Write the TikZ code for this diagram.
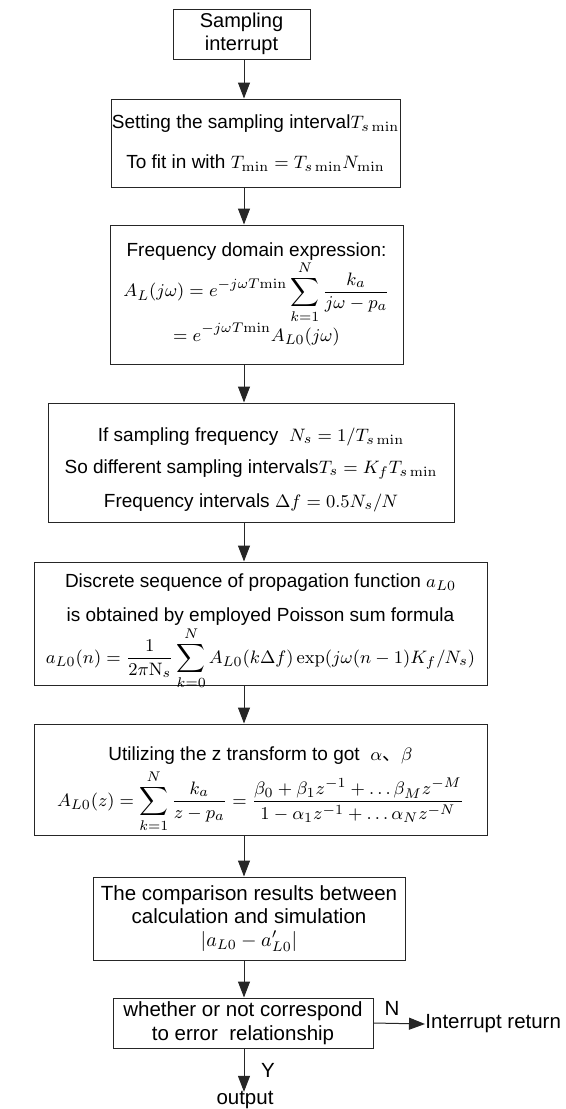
\documentclass[tikz,border=0pt]{standalone}
\usepackage[no-math]{fontspec}
\setmainfont{Liberation Sans}
\newfontfamily\cjk{Noto Sans CJK SC}
\usetikzlibrary{arrows.meta}
\begin{document}
\begin{tikzpicture}[x=0.5pt,y=-0.5pt,
  box/.style={draw=black!85,line width=0.5pt,align=center,inner sep=0pt,font=\fontsize{9.5}{12}\selectfont},
  arr/.style={draw=black!85,line width=0.5pt,-{Triangle[length=8pt,width=6pt]}},
  lbl/.style={inner sep=0pt,font=\fontsize{10.25}{12.5}\selectfont}]
\useasboundingbox (0,0) rectangle (566,1109);
\coordinate (ax) at (244,0);

\node[box,minimum width=68.5pt,minimum height=25pt,font=\fontsize{10}{11.5}\selectfont] (b1) at (241.5,34)
  {Sampling\\interrupt};

\node[box,minimum width=144.5pt,minimum height=44pt] (b2) at (255.5,143)
  {Setting the sampling interval$T_{s\min}$\\[8pt]
   To fit in with $T_{\min}=T_{s\min}N_{\min}$};

\node[box,minimum width=146.5pt,minimum height=69.5pt] (b3) at (256.5,294.5)
  {Frequency domain expression:\\[-1pt]
   $\displaystyle A_L(j\omega)=e^{-j\omega T\mathrm{min}}\sum_{k=1}^{N}\frac{k_a}{j\omega-p_a}$\\[-1pt]
   $\displaystyle =e^{-j\omega T\mathrm{min}}A_{L0}(j\omega)$};

\node[box,minimum width=203pt,minimum height=59.5pt] (b4) at (251,462.5)
  {\rule{0pt}{14pt}If sampling frequency\ \ $N_s=1/T_{s\min}$\\[4pt]
   So different sampling intervals$T_s=K_fT_{s\min}$\\[5pt]
   Frequency intervals $\Delta f=0.5N_s/N$};

\node[box,minimum width=226.5pt,minimum height=61.5pt] (b5) at (260.5,623.5)
  {Discrete sequence of propagation function $a_{L0}$\\[5pt]
   is obtained by employed Poisson sum formula\\[0pt]
   \raisebox{0pt}[\height][5pt]{$\displaystyle a_{L0}(n)=\frac{1}{2\pi\mathrm{N}_s}\sum_{k=0}^{N}A_{L0}(k\Delta f)\exp(j\omega(n-1)K_f/N_s)$}};

\node[box,minimum width=226.5pt,minimum height=55.5pt] (b6) at (260.5,779.5)
  {Utilizing the z transform to got\ \ $\alpha${\cjk 、}$\beta$\\[2pt]
   \raisebox{0pt}[\height][3pt]{$\displaystyle A_{L0}(z)=\sum_{k=1}^{N}\frac{k_a}{z-p_a}=\frac{\beta_0+\beta_1z^{-1}+\ldots\beta_Mz^{-M}}{1-\alpha_1z^{-1}+\ldots\alpha_Nz^{-N}}$}};

\node[box,minimum width=156pt,minimum height=41.5pt,font=\fontsize{10.25}{11.5}\selectfont] (b7) at (249,918.5)
  {The comparison results between\\calculation and simulation\\
   $\left|a_{L0}-a'_{L0}\right|$};

\node[box,minimum width=130pt,minimum height=25pt,font=\fontsize{10.25}{12}\selectfont] (b8) at (243,1023)
  {whether or not correspond\\to error\ \ relationship};

\node[lbl,anchor=west] (ret) at (425,1024) {Interrupt return};
\node[lbl] (out) at (245,1100) {output};
\node[lbl] (nl) at (392,1008) {N};
\node[lbl] (yl) at (268,1070) {Y};

\draw[arr] (b1.south -| ax) -- (b2.north -| ax);
\draw[arr] (b2.south -| ax) -- (b3.north -| ax);
\draw[arr] (b3.south -| ax) -- (b4.north -| ax);
\draw[arr] (b4.south -| ax) -- (b5.north -| ax);
\draw[arr] (b5.south -| ax) -- (b6.north -| ax);
\draw[arr] (b6.south -| ax) -- (b7.north -| ax);
\draw[arr] (b7.south -| ax) -- (b8.north -| ax);
\draw[arr] (b8.south -| ax) -- ([yshift=-0.5pt]out.north -| ax);
\draw[arr] (b8.east) -- (ret.west);
\end{tikzpicture}
\end{document}
